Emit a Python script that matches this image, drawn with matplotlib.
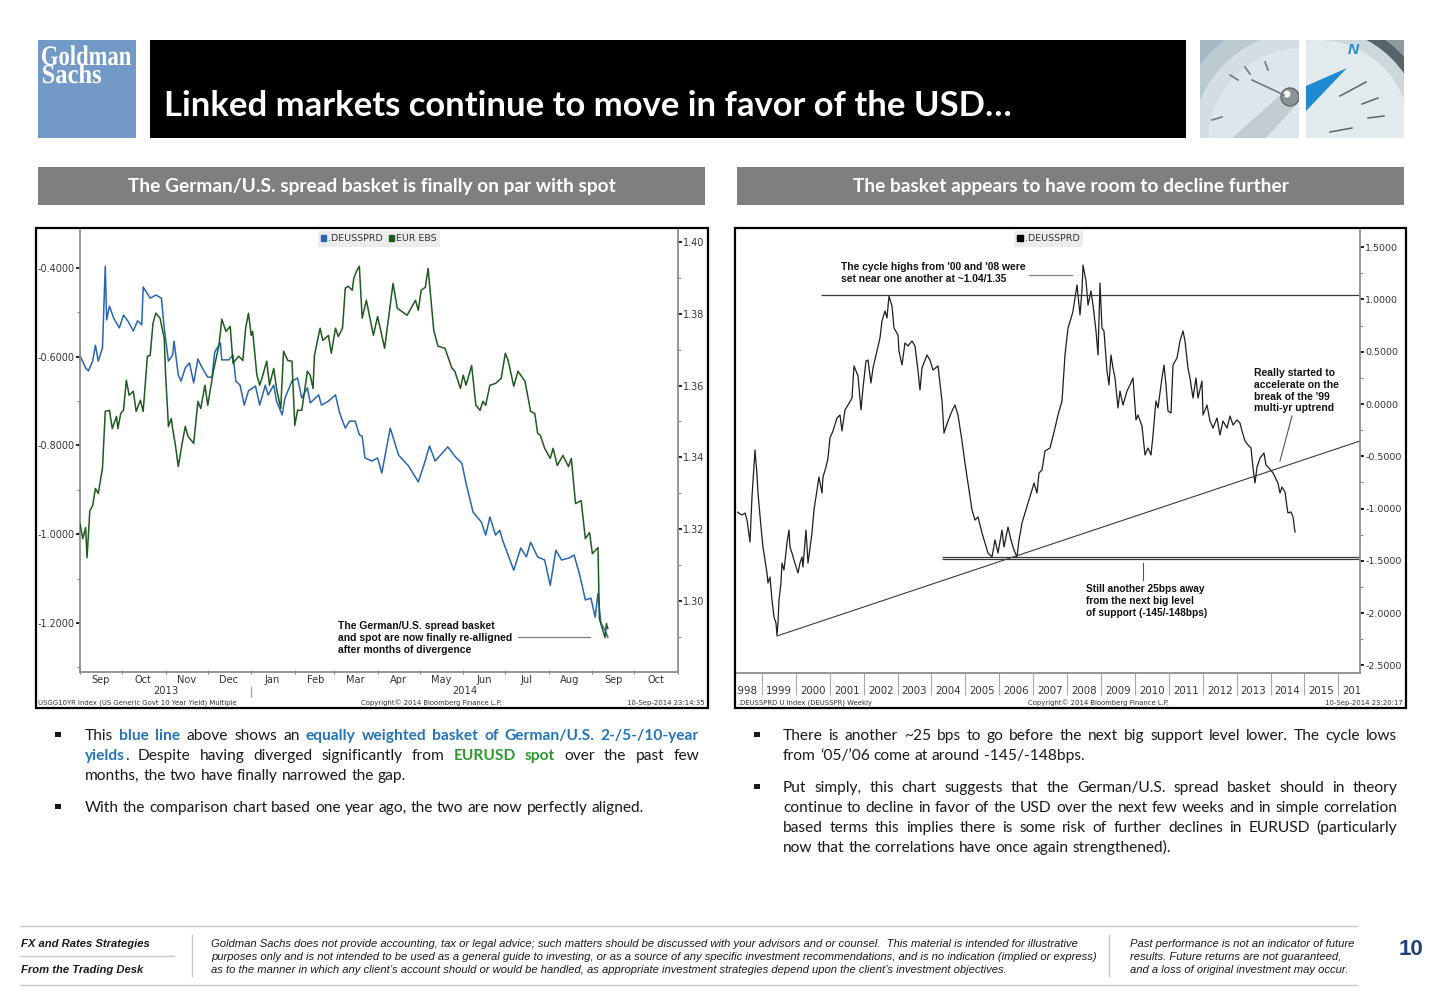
import re
import numpy as np
import matplotlib
matplotlib.use('Agg')
import matplotlib.pyplot as plt
import matplotlib.dates as mdates
from matplotlib.patches import Rectangle, Circle, Polygon, Patch, PathPatch
from matplotlib.lines import Line2D
from matplotlib.ticker import MultipleLocator, FormatStrFormatter, NullFormatter, FixedLocator
from matplotlib.transforms import Bbox, Affine2D
from matplotlib.textpath import TextPath
from matplotlib.font_manager import FontProperties

plt.rcParams['axes.unicode_minus'] = False
plt.rcParams['font.family'] = ['DejaVu Sans']

# ======================= DATA =======================
# Left chart: days since 2013-09-01
left_start = '2013-09-01'
left_end = '2014-11-01'
blue_days = [0,4,6,9,11,13,16,18,19,21,24,28,31,34,38,41,44,45,50,54,58,60,63,66,67,70,72,75,78,81,
             84,87,91,94,96,100,101,106,109,111,114,117,120,125,128,132,134,138,140,144,146,151,155,158,
             162,164,170,172,177,182,185,189,192,196,199,201,203,208,212,215,221,227,234,241,245,249,253,
             262,267,272,275,280,286,289,292,296,299,301,309,314,318,321,326,331,335,339,343,348,352,356,
             360,364,367,369,371,374,376]
blue_vals = [-0.598,-0.625,-0.632,-0.610,-0.574,-0.610,-0.580,-0.396,-0.517,-0.486,-0.513,-0.535,-0.506,
             -0.519,-0.542,-0.519,-0.528,-0.443,-0.468,-0.461,-0.468,-0.535,-0.610,-0.596,-0.565,-0.641,
             -0.655,-0.625,-0.614,-0.659,-0.605,-0.625,-0.646,-0.646,-0.589,-0.569,-0.607,-0.607,-0.596,
             -0.655,-0.664,-0.709,-0.677,-0.666,-0.709,-0.664,-0.686,-0.664,-0.700,-0.731,-0.693,-0.655,
             -0.648,-0.693,-0.670,-0.704,-0.686,-0.709,-0.700,-0.686,-0.727,-0.761,-0.745,-0.745,-0.776,
             -0.779,-0.828,-0.835,-0.828,-0.862,-0.761,-0.822,-0.846,-0.882,-0.844,-0.801,-0.835,-0.803,
             -0.824,-0.840,-0.885,-0.950,-0.973,-1.002,-0.961,-1.002,-0.991,-1.013,-1.081,-1.031,-1.051,
             -1.018,-1.051,-1.058,-1.115,-1.036,-1.058,-1.054,-1.047,-1.092,-1.148,-1.144,-1.187,-1.133,
             -1.200,-1.216,-1.232]
green_days = [0,2,4,5,7,9,11,13,16,18,21,23,26,27,29,31,33,35,38,40,43,45,48,50,52,54,57,60,61,63,
              65,66,68,70,73,75,77,81,84,86,89,91,95,99,101,104,107,109,113,116,118,120,122,123,126,128,
              130,133,135,138,140,143,145,148,151,153,155,158,162,164,166,167,171,173,177,179,182,184,187,
              189,191,194,195,197,199,201,204,209,212,217,223,226,233,239,241,243,246,248,252,255,260,265,
              267,271,273,275,279,282,285,287,289,292,296,300,303,305,309,312,317,321,324,326,328,331,335,
              337,340,344,348,350,353,357,360,363,365,369,370,371,374,375,376]
green_vals = [1.3215,1.3173,1.3204,1.3120,1.3251,1.3265,1.3313,1.3299,1.3369,1.3528,
              1.3531,1.3480,1.3514,1.3480,1.3522,1.3531,1.3615,1.3573,1.3584,1.3528,
              1.3559,1.3528,1.3682,1.3684,1.3774,1.3802,1.3788,1.3732,1.3629,1.3486,
              1.3508,1.3480,1.3433,1.3374,1.3444,1.3486,1.3458,1.3439,1.3556,1.3536,
              1.3601,1.3545,1.3640,1.3712,1.3785,1.3751,1.3765,1.3662,1.3682,1.3670,
              1.3760,1.3802,1.3740,1.3751,1.3629,1.3601,1.3626,1.3668,1.3601,1.3648,
              1.3592,1.3536,1.3696,1.3670,1.3668,1.3489,1.3531,1.3531,1.3640,1.3629,
              1.3592,1.3684,1.3760,1.3726,1.3740,1.3690,1.3760,1.3737,1.3760,1.3872,
              1.3877,1.3866,1.3899,1.3919,1.3933,1.3788,1.3838,1.3740,1.3793,1.3704,
              1.3885,1.3816,1.3796,1.3838,1.3810,1.3866,1.3874,1.3927,1.3754,1.3710,
              1.3704,1.3648,1.3640,1.3592,1.3629,1.3601,1.3656,1.3545,1.3531,1.3556,
              1.3545,1.3601,1.3606,1.3620,1.3690,1.3670,1.3598,1.3640,1.3612,1.3528,
              1.3522,1.3467,1.3461,1.3425,1.3397,1.3425,1.3377,1.3405,1.3374,1.3397,
              1.3271,1.3279,1.3173,1.3190,1.3131,1.3148,1.2950,1.2936,1.2897,1.2936,
              1.2922]
left_years = [2013, 2014]
left_legend = ['.DEUSSPRD', 'EUR EBS']

# Right chart: fractional years, weekly spread
spread_years = [1998.263,1998.410,1998.499,1998.558,1998.646,1998.705,1998.794,1998.853,1998.882,1998.971,
                1999.029,1999.147,1999.177,1999.236,1999.295,1999.354,1999.413,1999.442,1999.472,1999.501,
                1999.560,1999.590,1999.649,1999.737,1999.796,1999.826,1999.885,1999.944,2000.062,2000.121,
                2000.180,2000.209,2000.298,2000.357,2000.475,2000.534,2000.622,2000.681,2000.770,2000.799,
                2000.888,2000.947,2001.006,2001.094,2001.212,2001.301,2001.360,2001.448,2001.537,2001.655,
                2001.714,2001.832,2001.920,2001.979,2002.068,2002.127,2002.215,2002.274,2002.392,2002.481,
                2002.540,2002.628,2002.687,2002.746,2002.835,2002.894,2003.012,2003.041,2003.130,2003.218,
                2003.307,2003.425,2003.513,2003.602,2003.661,2003.720,2003.867,2003.956,2004.044,2004.192,
                2004.310,2004.369,2004.487,2004.605,2004.693,2004.782,2004.900,2004.988,2005.077,2005.195,
                2005.283,2005.372,2005.490,2005.578,2005.667,2005.785,2005.873,2005.962,2006.080,2006.139,
                2006.257,2006.345,2006.434,2006.522,2006.581,2006.670,2006.758,2006.847,2006.965,2007.024,
                2007.112,2007.171,2007.260,2007.348,2007.496,2007.643,2007.732,2007.850,2007.938,2008.027,
                2008.145,2008.174,2008.292,2008.322,2008.381,2008.440,2008.469,2008.558,2008.617,2008.705,
                2008.764,2008.853,2008.912,2008.971,2009.029,2009.088,2009.177,2009.236,2009.295,2009.354,
                2009.413,2009.501,2009.560,2009.649,2009.767,2009.855,2009.944,2010.032,2010.091,2010.209,
                2010.298,2010.386,2010.475,2010.534,2010.622,2010.681,2010.799,2010.858,2010.917,2010.976,
                2011.065,2011.124,2011.242,2011.330,2011.419,2011.478,2011.566,2011.625,2011.714,2011.802,
                2011.861,2011.979,2012.009,2012.127,2012.215,2012.304,2012.422,2012.510,2012.599,2012.717,
                2012.805,2012.894,2013.012,2013.100,2013.159,2013.248,2013.336,2013.425,2013.484,2013.543,
                2013.602,2013.690,2013.808,2013.867,2013.956,2014.074,2014.221,2014.280,2014.339,2014.428,
                2014.487,2014.516,2014.605,2014.664,2014.723]
spread_vals = [-1.033,-1.062,-1.043,-1.110,-1.321,-0.890,-0.440,-0.679,-0.852,-1.177,
               -1.368,-1.617,-1.713,-1.656,-1.876,-2.038,-2.096,-2.211,-2.096,-1.876,
               -1.713,-1.522,-1.589,-1.330,-1.206,-1.368,-1.426,-1.493,-1.617,-1.522,
               -1.464,-1.560,-1.206,-1.522,-1.234,-1.014,-0.823,-0.699,-0.852,-0.699,
               -0.603,-0.517,-0.325,-0.258,-0.134,-0.105,-0.258,-0.057,-0.010,0.057,
               0.364,0.268,-0.057,0.153,0.411,0.421,0.201,0.344,0.507,0.632,
               0.794,0.890,0.823,1.033,0.938,0.727,0.660,0.507,0.373,0.584,
               0.555,0.603,0.555,0.316,0.134,0.344,0.469,0.421,0.325,0.364,
               0.029,-0.278,-0.163,-0.067,-0.010,-0.105,-0.354,-0.565,-0.756,-1.014,
               -1.110,-1.081,-1.234,-1.330,-1.426,-1.464,-1.301,-1.426,-1.206,-1.368,
               -1.177,-1.301,-1.397,-1.464,-1.301,-1.139,-1.043,-0.947,-0.823,-0.756,
               -0.852,-0.660,-0.632,-0.450,-0.421,-0.230,-0.105,0.029,0.469,0.727,
               0.852,0.890,1.139,1.043,0.852,1.091,1.330,1.177,0.947,1.081,
               0.947,0.699,0.469,1.158,0.727,0.699,0.316,0.182,0.469,0.344,
               0.249,-0.038,0.124,-0.010,0.124,0.182,0.249,-0.153,-0.105,-0.211,
               -0.488,-0.421,-0.488,-0.297,0.029,-0.038,0.249,0.373,0.182,-0.067,
               -0.086,0.373,0.440,0.603,0.699,0.603,0.344,0.249,0.057,0.249,
               0.057,0.220,-0.105,-0.010,-0.163,-0.230,-0.134,-0.297,-0.163,-0.230,
               -0.115,-0.201,-0.153,-0.182,-0.258,-0.354,-0.392,-0.421,-0.612,-0.756,
               -0.603,-0.517,-0.469,-0.584,-0.612,-0.660,-0.756,-0.852,-0.794,-0.842,
               -0.986,-1.043,-1.033,-1.081,-1.225]
right_xlim = [1998.263, 2016.640]
right_year_labels = list(range(1998, 2017))
cycle_high_level = 1.043
cycle_high_from = 2000.75
support_levels = [-1.461, -1.483]
support_from = 2004.31
trend_x = [1999.44, 2016.64]
trend_y = [-2.22, -0.354]
right_legend = ['.DEUSSPRD']

# ======================= TEXT =======================
TITLE = 'Linked markets continue to move in favor of the USD\u2026'
SUB_L = 'The German/U.S. spread basket is finally on par with spot'
SUB_R = 'The basket appears to have room to decline further'

# ======================= SETUP =======================
W, H = 1449, 993
fig = plt.figure(figsize=(W / 100, H / 100), dpi=100, facecolor='white')
R = fig.canvas.get_renderer()


def layer(z):
    a = fig.add_axes([0, 0, 1, 1], zorder=z)
    a.set_xlim(0, W)
    a.set_ylim(H, 0)
    a.axis('off')
    return a


bg = layer(0)
fg = layer(10)


def px_rect(x0, y0, x1, y1):
    return [x0 / W, 1 - y1 / H, (x1 - x0) / W, (y1 - y0) / H]


def text_w(s, **kw):
    t = bg.text(0, 0, s, **kw)
    w = t.get_window_extent(R).width
    t.remove()
    return w


def fit_size(s, target, **kw):
    return 20.0 * target / text_w(s, fontsize=20, **kw)


BODYF = 'Lato'
ARIAL = 'Liberation Sans'

# ======================= HEADER =======================
bg.add_patch(Rectangle((38, 40), 98, 98, fc='#7399C6', ec='none'))


def box_text(ax, s, x0, x1, ybase, cap, fp, color):
    tp = TextPath((0, 0), s, size=100, prop=fp)
    ext = tp.get_extents()
    capref = TextPath((0, 0), 'H', size=100, prop=fp).get_extents().height
    sx = (x1 - x0) / ext.width
    sy = cap / capref
    tr = Affine2D().translate(-ext.x0, 0).scale(sx, -sy).translate(x0, ybase)
    ax.add_patch(PathPatch(tr.transform_path(tp), fc=color, ec='none', lw=0))


gsfp = FontProperties(family='Liberation Serif', weight='bold')
box_text(bg, 'Goldman', 42, 131, 65, 18.5, gsfp, 'white')
box_text(bg, 'Sachs', 43, 101, 83, 18, gsfp, 'white')

bg.add_patch(Rectangle((150, 40), 1036, 98, fc='black', ec='none'))
ts = fit_size(TITLE, 848, family=BODYF, fontweight='bold')
bg.text(164, 116, TITLE, color='white', fontsize=ts, fontweight='bold', family=BODYF, va='baseline')

# compass photo 1
clip1 = Rectangle((1200, 40), 99, 98, fc='#A7B9C2', ec='none')
bg.add_patch(clip1)
p1 = [Circle((1302, 142), 128, fc='#BCCBD2', ec='none'),
      Circle((1302, 142), 110, fc='#D3DEE3', ec='none'),
      Circle((1302, 142), 94, fc='#DDE7EB', ec='none'),
      Polygon([(1284, 92), (1297, 104), (1266, 138), (1232, 138)], closed=True, fc='#C2CDD2', ec='none'),
      Circle((1290, 97), 9, fc='#8B9397', ec='#5F676B', lw=1),
      Circle((1287, 94), 3.5, fc='#F5F5F5', ec='none')]
for p in p1:
    bg.add_patch(p)
    p.set_clip_path(clip1)
for (a, b) in [((1252, 80), (1284, 95)), ((1212, 120), (1222, 117)), ((1230, 75), (1238, 80)),
               ((1265, 62), (1268, 70)), ((1245, 67), (1250, 74))]:
    ln = Line2D([a[0], b[0]], [a[1], b[1]], color='#6F7A80', lw=1.2)
    bg.add_line(ln)
    ln.set_clip_path(clip1)

# compass photo 2
clip2 = Rectangle((1306, 40), 98, 98, fc='#8E9AA0', ec='none')
bg.add_patch(clip2)
p2 = [Circle((1318, 132), 114, fc='#56636A', ec='none'),
      Circle((1318, 132), 104, fc='#CDD8DD', ec='none'),
      Circle((1318, 132), 92, fc='#E2EAEE', ec='none'),
      Polygon([(1306, 86), (1347, 68), (1306, 111)], closed=True, fc='#1F8AD2', ec='none')]
for p in p2:
    bg.add_patch(p)
    p.set_clip_path(clip2)
for (a, b) in [((1340, 96), (1366, 82)), ((1362, 104), (1378, 98)), ((1368, 118), (1384, 116)),
               ((1330, 132), (1352, 128))]:
    ln = Line2D([a[0], b[0]], [a[1], b[1]], color='#59646A', lw=1.1)
    bg.add_line(ln)
    ln.set_clip_path(clip2)
tN = bg.text(1353, 50, 'N', color='#1F8AD2', fontsize=11, fontweight='bold', style='italic',
             family=ARIAL, ha='center', va='center')
tN.set_clip_path(clip2)

# subtitle bars
for (x0, x1, s) in [(38, 705, SUB_L), (737, 1404, SUB_R)]:
    bg.add_patch(Rectangle((x0, 167), x1 - x0, 38, fc='#7F7F7F', ec='none'))
ss = fit_size(SUB_L, 490, family=BODYF, fontweight='bold')
bg.text((38 + 705) / 2, 192, SUB_L, color='white', fontsize=ss, fontweight='bold', family=BODYF,
        ha='center', va='baseline')
bg.text((737 + 1404) / 2, 192, SUB_R, color='white', fontsize=ss, fontweight='bold', family=BODYF,
        ha='center', va='baseline')

# chart frames
bg.add_patch(Rectangle((36, 228), 672, 480, fc='white', ec='black', lw=1.6))
bg.add_patch(Rectangle((735, 228), 671, 480, fc='white', ec='black', lw=1.6))

BLUE = '#2866B0'
GREEN = '#1F5A1F'
TCOL = '#333333'
SPINE = '#8C8C8C'

# ======================= LEFT CHART =======================
ax1 = fig.add_axes(px_rect(80, 230, 678, 672), zorder=2)
ax1.set_facecolor('none')
d0 = np.datetime64(left_start)
bx = d0 + np.array(blue_days).astype('timedelta64[D]')
gx = d0 + np.array(green_days).astype('timedelta64[D]')
ax1.plot(bx, blue_vals, color=BLUE, lw=1.1)
xl0, xl1 = np.datetime64(left_start), np.datetime64(left_end)
ax1.set_xlim(xl0, xl1)
ax1.set_ylim(-1.3104, -0.3144)
ax1.yaxis.set_major_locator(MultipleLocator(0.2))
ax1.yaxis.set_minor_locator(MultipleLocator(0.1))
ax1.yaxis.set_major_formatter(FormatStrFormatter('%.4f'))
ax1.tick_params(axis='y', which='major', direction='out', length=3, width=1.4, color='#222222',
                labelsize=6.9, labelcolor=TCOL, pad=0.8)
ax1.tick_params(axis='y', which='minor', direction='out', length=2.5, width=0.8, color='#888888')
ax1.xaxis.set_major_locator(mdates.MonthLocator())
ax1.xaxis.set_major_formatter(NullFormatter())
ax1.xaxis.set_minor_locator(mdates.MonthLocator(bymonthday=16))
ax1.xaxis.set_minor_formatter(mdates.DateFormatter('%b'))
ax1.tick_params(axis='x', which='major', length=3, width=0.8, color='#808080', direction='inout')
ax1.tick_params(axis='x', which='minor', length=0, labelsize=7.1, labelcolor=TCOL, pad=2.0)
for s in ['top', 'right']:
    ax1.spines[s].set_visible(False)
for s in ['left', 'bottom']:
    ax1.spines[s].set_color(SPINE)
    ax1.spines[s].set_linewidth(1.3)

ax1r = ax1.twinx()
ax1r.plot(gx, green_vals, color=GREEN, lw=1.1)
ax1r.set_ylim(1.2801, 1.4034)
ax1r.yaxis.set_major_locator(MultipleLocator(0.02))
ax1r.yaxis.set_minor_locator(MultipleLocator(0.01))
ax1r.yaxis.set_major_formatter(FormatStrFormatter('%.2f'))
ax1r.tick_params(axis='y', which='major', direction='out', length=3, width=1.4, color='#222222',
                 labelsize=6.9, labelcolor=TCOL, pad=0.8)
ax1r.tick_params(axis='y', which='minor', direction='out', length=2.5, width=0.8, color='#888888')
for s in ['top', 'left', 'bottom']:
    ax1r.spines[s].set_visible(False)
ax1r.spines['right'].set_color(SPINE)
ax1r.spines['right'].set_linewidth(1.3)
leg = ax1r.legend(handles=[Patch(color=BLUE, label=left_legend[0]), Patch(color=GREEN, label=left_legend[1])],
                  loc='upper center', bbox_to_anchor=(0.5, 1.0), ncol=2, frameon=True, fancybox=False,
                  facecolor='#ECECEC', edgecolor='none', framealpha=1, fontsize=6.8, handlelength=0.55,
                  handleheight=0.55, handletextpad=0.25, columnspacing=0.6, borderpad=0.35, borderaxespad=0.1)
for t in leg.get_texts():
    t.set_color(TCOL)

xt = ax1.get_xaxis_transform()
for yr in left_years:
    a = max(xl0, np.datetime64(f'{yr}-01-01'))
    b = min(xl1, np.datetime64(f'{yr + 1}-01-01'))
    mid = a + (b - a) // 2
    ax1.text(mid, -0.043, str(yr), transform=xt, ha='center', va='center', fontsize=7.1, color=TCOL,
             clip_on=False)
for yr in left_years[1:]:
    ax1.add_line(Line2D([np.datetime64(f'{yr}-01-01')] * 2, [-0.033, -0.057], transform=xt,
                        color='#9A9A9A', lw=0.8, clip_on=False))

# ======================= RIGHT CHART =======================
ax2 = fig.add_axes(px_rect(737, 230, 1360, 673), zorder=2)
ax2.set_facecolor('none')
ax2.plot(spread_years, spread_vals, color='#1E1E1E', lw=0.9)
ax2.set_xlim(*right_xlim)
ax2.set_ylim(-2.574, 1.665)
ax2.hlines([cycle_high_level], cycle_high_from, right_xlim[1], color='#3A3A3A', lw=0.9)
ax2.hlines(support_levels, support_from, right_xlim[1], color='#3A3A3A', lw=0.9)
ax2.plot(trend_x, trend_y, color='#3A3A3A', lw=0.8)
ax2.yaxis.tick_right()
ax2.yaxis.set_major_locator(MultipleLocator(0.5))
ax2.yaxis.set_minor_locator(MultipleLocator(0.25))
ax2.yaxis.set_major_formatter(FormatStrFormatter('%.4f'))
ax2.tick_params(axis='y', which='major', direction='out', length=3, width=1.4, color='#222222',
                labelsize=6.8, labelcolor=TCOL, pad=0.8, left=False, right=True)
ax2.tick_params(axis='y', which='minor', direction='out', length=2.5, width=0.8, color='#888888',
                left=False, right=True)
ax2.xaxis.set_major_locator(FixedLocator(right_year_labels))
ax2.xaxis.set_major_formatter(NullFormatter())
ax2.tick_params(axis='x', which='major', direction='out', length=16, width=0.8, color='#A8A8A8')
for s in ['top', 'left']:
    ax2.spines[s].set_visible(False)
for s in ['right', 'bottom']:
    ax2.spines[s].set_color(SPINE)
    ax2.spines[s].set_linewidth(1.3)
clipbb = Bbox.from_extents(737, H - 708, 1362, H - 228)
xt2 = ax2.get_xaxis_transform()
for yr in right_year_labels:
    if right_xlim[0] < yr + 0.5 < right_xlim[1]:
        t = ax2.text(yr + 0.5, -0.041, str(yr), transform=xt2, ha='center', va='center', fontsize=7.4,
                     color=TCOL, clip_on=True)
        t.set_clip_box(clipbb)
leg2 = ax2.legend(handles=[Patch(color='black', label=right_legend[0])], loc='upper center',
                  bbox_to_anchor=(0.5, 1.0), frameon=True, fancybox=False, facecolor='#ECECEC',
                  edgecolor='none', framealpha=1, fontsize=6.8, handlelength=0.55, handleheight=0.55,
                  handletextpad=0.25, borderpad=0.35, borderaxespad=0.1)
for t in leg2.get_texts():
    t.set_color(TCOL)

# ======================= CHART FOOTERS =======================
fs_cf = fit_size('USGG10YR Index (US Generic Govt 10 Year Yield) Multiple', 197)
for (x, s, ha) in [(38, 'USGG10YR Index (US Generic Govt 10 Year Yield) Multiple', 'left'),
                   (431, 'Copyright\u00a9 2014 Bloomberg Finance L.P.', 'center'),
                   (705, '10-Sep-2014 23:14:35', 'right'),
                   (738, '.DEUSSPRD U Index (DEUSSPR) Weekly', 'left'),
                   (1098, 'Copyright\u00a9 2014 Bloomberg Finance L.P.', 'center'),
                   (1403, '10-Sep-2014 23:20:17', 'right')]:
    fg.text(x, 702.5, s, fontsize=fs_cf, color='#333333', ha=ha, va='center')

# ======================= ANNOTATIONS =======================


def ann(lines, x, ys, ref, refw):
    sz = fit_size(ref, refw, family=ARIAL, fontweight='bold')
    for s, y in zip(lines, ys):
        fg.text(x, y, s, fontsize=sz, family=ARIAL, fontweight='bold', color='#111111', va='center')


ann(['The German/U.S. spread basket', 'and spot are now finally re-alligned', 'after months of divergence'],
    338, [626, 638, 650], 'and spot are now finally re-alligned', 174)
fg.add_line(Line2D([518, 590], [637, 637], color='#808080', lw=0.9))
ann(["The cycle highs from '00 and '08 were", 'set near one another at ~1.04/1.35'],
    841, [267, 279], "The cycle highs from '00 and '08 were", 183)
fg.add_line(Line2D([1029, 1072], [275, 275], color='#808080', lw=0.9))
ann(['Really started to', 'accelerate on the', "break of the '99", 'multi-yr uptrend'],
    1254, [373, 385, 397, 408], 'accelerate on the', 85)
fg.add_line(Line2D([1292, 1280], [416, 461], color='#555555', lw=0.8))
ann(['Still another 25bps away', 'from the next big level', 'of support (-145/-148bps)'],
    1086, [589, 601, 613], 'of support (-145/-148bps)', 121)
fg.add_line(Line2D([1143, 1143], [563, 580], color='#555555', lw=0.8))

# ======================= BODY TEXT =======================
NS = dict(color='#1A1A1A')
BS = dict(color='#2474BB', fontweight='bold')
GS = dict(color='#2E9A2E', fontweight='bold')

left_paras = [
    [[('This ', NS), ('blue line', BS), (' above shows an ', NS),
      ('equally weighted basket of German/U.S. 2-/5-/10-year', BS)],
     [('yields', BS), ('. Despite having diverged significantly from ', NS), ('EURUSD spot', GS),
      (' over the past few', NS)],
     [('months, the two have finally narrowed the gap.', NS)]],
    [[('With the comparison chart based one year ago, the two are now perfectly aligned.', NS)]],
]
right_paras = [
    [[('There is another ~25 bps to go before the next big support level lower. The cycle lows', NS)],
     [('from \u201805/\u201906 come at around -145/-148bps.', NS)]],
    [[('Put simply, this chart suggests that the German/U.S. spread basket should in theory', NS)],
     [('continue to decline in favor of the USD over the next few weeks and in simple correlation', NS)],
     [('based terms this implies there is some risk of further declines in EURUSD (particularly', NS)],
     [('now that the correlations have once again strengthened).', NS)]],
]

bsz = fit_size('With the comparison chart based one year ago, the two are now perfectly aligned.', 560,
               family=BODYF)
space_w = text_w('a a', fontsize=bsz, family=BODYF) - text_w('aa', fontsize=bsz, family=BODYF)


def tokens(runs):
    out, cur = [], []
    for txt, st in runs:
        for p in re.split(r'( )', txt):
            if p == ' ':
                if cur:
                    out.append(cur)
                    cur = []
            elif p:
                cur.append((p, st))
    if cur:
        out.append(cur)
    return out


def draw_line(runs, x0, x1, yb, justify):
    toks = tokens(runs)
    objs, widths = [], []
    for tok in toks:
        segs, w = [], 0
        for s, st in tok:
            t = bg.text(0, yb, s, fontsize=bsz, family=BODYF, va='baseline', ha='left', **st)
            ww = t.get_window_extent(R).width
            segs.append((t, ww))
            w += ww
        objs.append(segs)
        widths.append(w)
    gap = (x1 - x0 - sum(widths)) / (len(toks) - 1) if (justify and len(toks) > 1) else space_w
    x = x0
    for segs, w in zip(objs, widths):
        xx = x
        for t, ww in segs:
            t.set_x(xx)
            xx += ww
        x += w + gap


def draw_paras(paras, x0, x1, bullet_x, baselines):
    k = 0
    for para in paras:
        for i, line in enumerate(para):
            yb = baselines[k]
            if i == 0:
                bg.add_patch(Rectangle((bullet_x - 3, yb - 8.5), 5.5, 5.5, fc='#1A1A1A', ec='none'))
            draw_line(line, x0, x1, yb, justify=(i < len(para) - 1))
            k += 1


draw_paras(left_paras, 85, 699, 58, [740, 760, 780, 812])
draw_paras(right_paras, 783, 1397, 757, [740, 760, 792, 812, 832, 852])

# ======================= PAGE FOOTER =======================
FL = '#C8C8C8'
for yy in (926, 985):
    bg.add_line(Line2D([20, 1357], [yy, yy], color=FL, lw=1))
bg.add_line(Line2D([20, 174], [956, 956], color=FL, lw=1))
bg.add_line(Line2D([192, 192], [935, 976], color=FL, lw=1))
bg.add_line(Line2D([1109, 1109], [935, 976], color=FL, lw=1))
fsz = fit_size('FX and Rates Strategies', 128, family=ARIAL, fontweight='bold', style='italic')
bg.text(21, 947, 'FX and Rates Strategies', fontsize=fsz, family=ARIAL, fontweight='bold', style='italic',
        color='#1A1A1A', va='baseline')
bg.text(21, 973, 'From the Trading Desk', fontsize=fsz, family=ARIAL, fontweight='bold', style='italic',
        color='#1A1A1A', va='baseline')
disc = ['Goldman Sachs does not provide accounting, tax or legal advice; such matters should be discussed with your advisors and or counsel.  This material is intended for illustrative',
        'purposes only and is not intended to be used as a general guide to investing, or as a source of any specific investment recommendations, and is no indication (implied or express)',
        'as to the manner in which any client\u2019s account should or would be handled, as appropriate investment strategies depend upon the client\u2019s investment objectives.']
dsz = fit_size(disc[0], 866, family=ARIAL, style='italic')
for s, yb in zip(disc, [947, 960, 973]):
    bg.text(211, yb, s, fontsize=dsz, family=ARIAL, style='italic', color='#1A1A1A', va='baseline')
past = ['Past performance is not an indicator of future', 'results. Future returns are not guaranteed,',
        'and a loss of original investment may occur.']
for s, yb in zip(past, [947, 960, 973]):
    bg.text(1130, yb, s, fontsize=dsz, family=ARIAL, style='italic', color='#1A1A1A', va='baseline')
bg.text(1411, 955, '10', fontsize=16, family=ARIAL, fontweight='bold', color='#1F3F7A', ha='center',
        va='baseline')

fig.savefig('out.png', dpi=100, facecolor='white')
